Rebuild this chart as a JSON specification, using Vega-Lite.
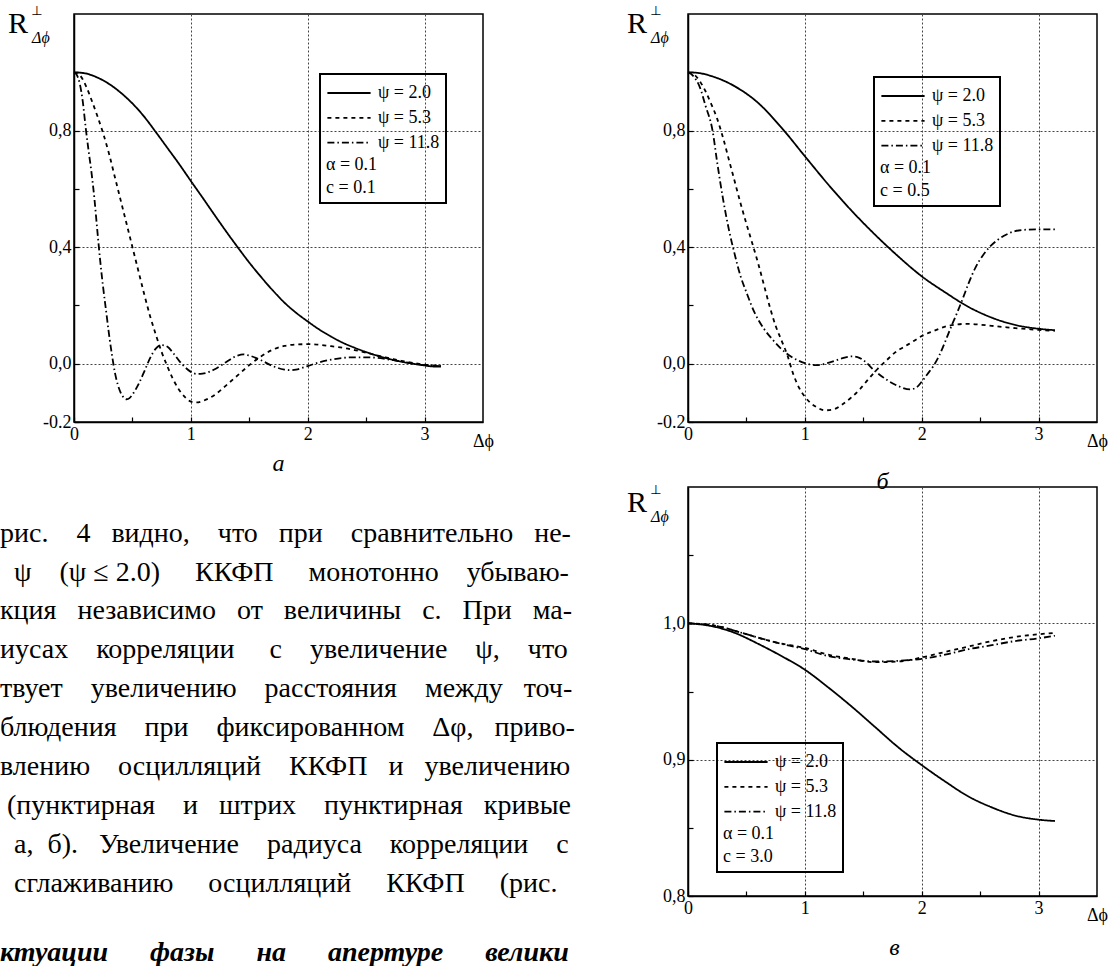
{
 "$schema": "https://vega.github.io/schema/vega-lite/v6.json",
 "autosize": {"type": "none"},
 "padding": {"left": 74, "top": 14, "right": 1039, "bottom": 952},
 "background": "white",
 "datasets": {
  "curves": [
   {"p":"a","s":"ψ = 2.0","x":0,"y":1},{"p":"a","s":"ψ = 2.0","x":0.1,"y":0.996},{"p":"a","s":"ψ = 2.0","x":0.2,"y":0.982},{"p":"a","s":"ψ = 2.0","x":0.3,"y":0.96},{"p":"a","s":"ψ = 2.0","x":0.4,"y":0.93},{"p":"a","s":"ψ = 2.0","x":0.5,"y":0.893},{"p":"a","s":"ψ = 2.0","x":0.6,"y":0.848},{"p":"a","s":"ψ = 2.0","x":0.7,"y":0.795},{"p":"a","s":"ψ = 2.0","x":0.8,"y":0.74},{"p":"a","s":"ψ = 2.0","x":0.9,"y":0.685},{"p":"a","s":"ψ = 2.0","x":1.0,"y":0.627},{"p":"a","s":"ψ = 2.0","x":1.1,"y":0.57},{"p":"a","s":"ψ = 2.0","x":1.2,"y":0.512},{"p":"a","s":"ψ = 2.0","x":1.3,"y":0.455},{"p":"a","s":"ψ = 2.0","x":1.4,"y":0.4},{"p":"a","s":"ψ = 2.0","x":1.5,"y":0.347},{"p":"a","s":"ψ = 2.0","x":1.6,"y":0.298},{"p":"a","s":"ψ = 2.0","x":1.7,"y":0.252},{"p":"a","s":"ψ = 2.0","x":1.8,"y":0.21},{"p":"a","s":"ψ = 2.0","x":1.9,"y":0.175},{"p":"a","s":"ψ = 2.0","x":2.0,"y":0.145},{"p":"a","s":"ψ = 2.0","x":2.1,"y":0.117},{"p":"a","s":"ψ = 2.0","x":2.2,"y":0.093},{"p":"a","s":"ψ = 2.0","x":2.3,"y":0.072},{"p":"a","s":"ψ = 2.0","x":2.4,"y":0.055},{"p":"a","s":"ψ = 2.0","x":2.5,"y":0.04},{"p":"a","s":"ψ = 2.0","x":2.6,"y":0.027},{"p":"a","s":"ψ = 2.0","x":2.7,"y":0.016},{"p":"a","s":"ψ = 2.0","x":2.8,"y":0.007},{"p":"a","s":"ψ = 2.0","x":2.9,"y":0.0},{"p":"a","s":"ψ = 2.0","x":3.0,"y":-0.006},{"p":"a","s":"ψ = 2.0","x":3.1,"y":-0.01},{"p":"a","s":"ψ = 2.0","x":3.14,"y":-0.01},

   {"p":"a","s":"ψ = 5.3","x":0,"y":1},{"p":"a","s":"ψ = 5.3","x":0.05,"y":0.99},{"p":"a","s":"ψ = 5.3","x":0.1,"y":0.955},{"p":"a","s":"ψ = 5.3","x":0.15,"y":0.905},{"p":"a","s":"ψ = 5.3","x":0.2,"y":0.85},{"p":"a","s":"ψ = 5.3","x":0.25,"y":0.79},{"p":"a","s":"ψ = 5.3","x":0.3,"y":0.72},{"p":"a","s":"ψ = 5.3","x":0.35,"y":0.64},{"p":"a","s":"ψ = 5.3","x":0.4,"y":0.56},{"p":"a","s":"ψ = 5.3","x":0.45,"y":0.48},{"p":"a","s":"ψ = 5.3","x":0.5,"y":0.4},{"p":"a","s":"ψ = 5.3","x":0.55,"y":0.32},{"p":"a","s":"ψ = 5.3","x":0.6,"y":0.24},{"p":"a","s":"ψ = 5.3","x":0.65,"y":0.165},{"p":"a","s":"ψ = 5.3","x":0.7,"y":0.1},{"p":"a","s":"ψ = 5.3","x":0.75,"y":0.04},{"p":"a","s":"ψ = 5.3","x":0.8,"y":-0.01},{"p":"a","s":"ψ = 5.3","x":0.85,"y":-0.055},{"p":"a","s":"ψ = 5.3","x":0.9,"y":-0.09},{"p":"a","s":"ψ = 5.3","x":0.95,"y":-0.115},{"p":"a","s":"ψ = 5.3","x":1.0,"y":-0.13},{"p":"a","s":"ψ = 5.3","x":1.05,"y":-0.133},{"p":"a","s":"ψ = 5.3","x":1.1,"y":-0.128},{"p":"a","s":"ψ = 5.3","x":1.2,"y":-0.108},{"p":"a","s":"ψ = 5.3","x":1.3,"y":-0.075},{"p":"a","s":"ψ = 5.3","x":1.4,"y":-0.04},{"p":"a","s":"ψ = 5.3","x":1.5,"y":-0.005},{"p":"a","s":"ψ = 5.3","x":1.6,"y":0.025},{"p":"a","s":"ψ = 5.3","x":1.7,"y":0.048},{"p":"a","s":"ψ = 5.3","x":1.8,"y":0.061},{"p":"a","s":"ψ = 5.3","x":1.9,"y":0.066},{"p":"a","s":"ψ = 5.3","x":2.0,"y":0.067},{"p":"a","s":"ψ = 5.3","x":2.1,"y":0.065},{"p":"a","s":"ψ = 5.3","x":2.2,"y":0.06},{"p":"a","s":"ψ = 5.3","x":2.3,"y":0.055},{"p":"a","s":"ψ = 5.3","x":2.4,"y":0.047},{"p":"a","s":"ψ = 5.3","x":2.5,"y":0.038},{"p":"a","s":"ψ = 5.3","x":2.6,"y":0.028},{"p":"a","s":"ψ = 5.3","x":2.7,"y":0.019},{"p":"a","s":"ψ = 5.3","x":2.8,"y":0.01},{"p":"a","s":"ψ = 5.3","x":2.9,"y":0.003},{"p":"a","s":"ψ = 5.3","x":3.0,"y":-0.003},{"p":"a","s":"ψ = 5.3","x":3.14,"y":-0.008},

   {"p":"a","s":"ψ = 11.8","x":0,"y":1},{"p":"a","s":"ψ = 11.8","x":0.025,"y":0.99},{"p":"a","s":"ψ = 11.8","x":0.05,"y":0.96},{"p":"a","s":"ψ = 11.8","x":0.075,"y":0.9},{"p":"a","s":"ψ = 11.8","x":0.1,"y":0.81},{"p":"a","s":"ψ = 11.8","x":0.125,"y":0.73},{"p":"a","s":"ψ = 11.8","x":0.15,"y":0.655},{"p":"a","s":"ψ = 11.8","x":0.175,"y":0.565},{"p":"a","s":"ψ = 11.8","x":0.2,"y":0.455},{"p":"a","s":"ψ = 11.8","x":0.225,"y":0.35},{"p":"a","s":"ψ = 11.8","x":0.25,"y":0.26},{"p":"a","s":"ψ = 11.8","x":0.275,"y":0.18},{"p":"a","s":"ψ = 11.8","x":0.3,"y":0.1},{"p":"a","s":"ψ = 11.8","x":0.325,"y":0.03},{"p":"a","s":"ψ = 11.8","x":0.35,"y":-0.03},{"p":"a","s":"ψ = 11.8","x":0.375,"y":-0.072},{"p":"a","s":"ψ = 11.8","x":0.4,"y":-0.1},{"p":"a","s":"ψ = 11.8","x":0.425,"y":-0.116},{"p":"a","s":"ψ = 11.8","x":0.45,"y":-0.122},{"p":"a","s":"ψ = 11.8","x":0.475,"y":-0.118},{"p":"a","s":"ψ = 11.8","x":0.5,"y":-0.106},{"p":"a","s":"ψ = 11.8","x":0.55,"y":-0.072},{"p":"a","s":"ψ = 11.8","x":0.6,"y":-0.028},{"p":"a","s":"ψ = 11.8","x":0.65,"y":0.018},{"p":"a","s":"ψ = 11.8","x":0.7,"y":0.052},{"p":"a","s":"ψ = 11.8","x":0.75,"y":0.064},{"p":"a","s":"ψ = 11.8","x":0.8,"y":0.058},{"p":"a","s":"ψ = 11.8","x":0.85,"y":0.036},{"p":"a","s":"ψ = 11.8","x":0.9,"y":0.01},{"p":"a","s":"ψ = 11.8","x":0.95,"y":-0.012},{"p":"a","s":"ψ = 11.8","x":1.0,"y":-0.028},{"p":"a","s":"ψ = 11.8","x":1.05,"y":-0.035},{"p":"a","s":"ψ = 11.8","x":1.1,"y":-0.034},{"p":"a","s":"ψ = 11.8","x":1.2,"y":-0.02},{"p":"a","s":"ψ = 11.8","x":1.3,"y":0.005},{"p":"a","s":"ψ = 11.8","x":1.4,"y":0.028},{"p":"a","s":"ψ = 11.8","x":1.45,"y":0.032},{"p":"a","s":"ψ = 11.8","x":1.5,"y":0.028},{"p":"a","s":"ψ = 11.8","x":1.6,"y":0.012},{"p":"a","s":"ψ = 11.8","x":1.7,"y":-0.008},{"p":"a","s":"ψ = 11.8","x":1.8,"y":-0.02},{"p":"a","s":"ψ = 11.8","x":1.85,"y":-0.022},{"p":"a","s":"ψ = 11.8","x":1.9,"y":-0.02},{"p":"a","s":"ψ = 11.8","x":2.0,"y":-0.008},{"p":"a","s":"ψ = 11.8","x":2.1,"y":0.005},{"p":"a","s":"ψ = 11.8","x":2.2,"y":0.014},{"p":"a","s":"ψ = 11.8","x":2.3,"y":0.02},{"p":"a","s":"ψ = 11.8","x":2.4,"y":0.022},{"p":"a","s":"ψ = 11.8","x":2.5,"y":0.022},{"p":"a","s":"ψ = 11.8","x":2.6,"y":0.02},{"p":"a","s":"ψ = 11.8","x":2.7,"y":0.014},{"p":"a","s":"ψ = 11.8","x":2.8,"y":0.008},{"p":"a","s":"ψ = 11.8","x":2.9,"y":0.0},{"p":"a","s":"ψ = 11.8","x":3.0,"y":-0.005},{"p":"a","s":"ψ = 11.8","x":3.14,"y":-0.008},

   {"p":"b","s":"ψ = 2.0","x":0,"y":1},{"p":"b","s":"ψ = 2.0","x":0.1,"y":0.997},{"p":"b","s":"ψ = 2.0","x":0.2,"y":0.987},{"p":"b","s":"ψ = 2.0","x":0.4,"y":0.952},{"p":"b","s":"ψ = 2.0","x":0.6,"y":0.895},{"p":"b","s":"ψ = 2.0","x":0.8,"y":0.81},{"p":"b","s":"ψ = 2.0","x":1.0,"y":0.712},{"p":"b","s":"ψ = 2.0","x":1.2,"y":0.615},{"p":"b","s":"ψ = 2.0","x":1.4,"y":0.525},{"p":"b","s":"ψ = 2.0","x":1.6,"y":0.443},{"p":"b","s":"ψ = 2.0","x":1.8,"y":0.368},{"p":"b","s":"ψ = 2.0","x":2.0,"y":0.3},{"p":"b","s":"ψ = 2.0","x":2.2,"y":0.245},{"p":"b","s":"ψ = 2.0","x":2.4,"y":0.195},{"p":"b","s":"ψ = 2.0","x":2.6,"y":0.158},{"p":"b","s":"ψ = 2.0","x":2.8,"y":0.133},{"p":"b","s":"ψ = 2.0","x":3.0,"y":0.12},{"p":"b","s":"ψ = 2.0","x":3.14,"y":0.115},

   {"p":"b","s":"ψ = 5.3","x":0,"y":1},{"p":"b","s":"ψ = 5.3","x":0.05,"y":0.993},{"p":"b","s":"ψ = 5.3","x":0.1,"y":0.97},{"p":"b","s":"ψ = 5.3","x":0.15,"y":0.935},{"p":"b","s":"ψ = 5.3","x":0.2,"y":0.89},{"p":"b","s":"ψ = 5.3","x":0.25,"y":0.84},{"p":"b","s":"ψ = 5.3","x":0.3,"y":0.775},{"p":"b","s":"ψ = 5.3","x":0.35,"y":0.7},{"p":"b","s":"ψ = 5.3","x":0.4,"y":0.625},{"p":"b","s":"ψ = 5.3","x":0.45,"y":0.55},{"p":"b","s":"ψ = 5.3","x":0.5,"y":0.48},{"p":"b","s":"ψ = 5.3","x":0.56,"y":0.4},{"p":"b","s":"ψ = 5.3","x":0.6,"y":0.345},{"p":"b","s":"ψ = 5.3","x":0.65,"y":0.27},{"p":"b","s":"ψ = 5.3","x":0.7,"y":0.195},{"p":"b","s":"ψ = 5.3","x":0.75,"y":0.13},{"p":"b","s":"ψ = 5.3","x":0.8,"y":0.08},{"p":"b","s":"ψ = 5.3","x":0.85,"y":0.03},{"p":"b","s":"ψ = 5.3","x":0.9,"y":-0.035},{"p":"b","s":"ψ = 5.3","x":0.95,"y":-0.082},{"p":"b","s":"ψ = 5.3","x":1.0,"y":-0.113},{"p":"b","s":"ψ = 5.3","x":1.05,"y":-0.135},{"p":"b","s":"ψ = 5.3","x":1.1,"y":-0.149},{"p":"b","s":"ψ = 5.3","x":1.17,"y":-0.16},{"p":"b","s":"ψ = 5.3","x":1.25,"y":-0.156},{"p":"b","s":"ψ = 5.3","x":1.32,"y":-0.14},{"p":"b","s":"ψ = 5.3","x":1.4,"y":-0.115},{"p":"b","s":"ψ = 5.3","x":1.47,"y":-0.088},{"p":"b","s":"ψ = 5.3","x":1.55,"y":-0.05},{"p":"b","s":"ψ = 5.3","x":1.62,"y":-0.019},{"p":"b","s":"ψ = 5.3","x":1.7,"y":0.012},{"p":"b","s":"ψ = 5.3","x":1.77,"y":0.038},{"p":"b","s":"ψ = 5.3","x":1.85,"y":0.058},{"p":"b","s":"ψ = 5.3","x":1.92,"y":0.075},{"p":"b","s":"ψ = 5.3","x":2.0,"y":0.095},{"p":"b","s":"ψ = 5.3","x":2.1,"y":0.112},{"p":"b","s":"ψ = 5.3","x":2.2,"y":0.127},{"p":"b","s":"ψ = 5.3","x":2.3,"y":0.135},{"p":"b","s":"ψ = 5.3","x":2.4,"y":0.137},{"p":"b","s":"ψ = 5.3","x":2.5,"y":0.134},{"p":"b","s":"ψ = 5.3","x":2.6,"y":0.13},{"p":"b","s":"ψ = 5.3","x":2.7,"y":0.126},{"p":"b","s":"ψ = 5.3","x":2.8,"y":0.122},{"p":"b","s":"ψ = 5.3","x":2.9,"y":0.119},{"p":"b","s":"ψ = 5.3","x":3.0,"y":0.116},{"p":"b","s":"ψ = 5.3","x":3.14,"y":0.113},

   {"p":"b","s":"ψ = 11.8","x":0,"y":1},{"p":"b","s":"ψ = 11.8","x":0.05,"y":0.985},{"p":"b","s":"ψ = 11.8","x":0.1,"y":0.95},{"p":"b","s":"ψ = 11.8","x":0.15,"y":0.885},{"p":"b","s":"ψ = 11.8","x":0.21,"y":0.8},{"p":"b","s":"ψ = 11.8","x":0.25,"y":0.69},{"p":"b","s":"ψ = 11.8","x":0.3,"y":0.565},{"p":"b","s":"ψ = 11.8","x":0.35,"y":0.46},{"p":"b","s":"ψ = 11.8","x":0.4,"y":0.375},{"p":"b","s":"ψ = 11.8","x":0.45,"y":0.3},{"p":"b","s":"ψ = 11.8","x":0.5,"y":0.245},{"p":"b","s":"ψ = 11.8","x":0.57,"y":0.175},{"p":"b","s":"ψ = 11.8","x":0.65,"y":0.12},{"p":"b","s":"ψ = 11.8","x":0.73,"y":0.08},{"p":"b","s":"ψ = 11.8","x":0.8,"y":0.05},{"p":"b","s":"ψ = 11.8","x":0.9,"y":0.02},{"p":"b","s":"ψ = 11.8","x":1.0,"y":0.002},{"p":"b","s":"ψ = 11.8","x":1.1,"y":-0.005},{"p":"b","s":"ψ = 11.8","x":1.2,"y":0.003},{"p":"b","s":"ψ = 11.8","x":1.3,"y":0.016},{"p":"b","s":"ψ = 11.8","x":1.4,"y":0.025},{"p":"b","s":"ψ = 11.8","x":1.45,"y":0.023},{"p":"b","s":"ψ = 11.8","x":1.5,"y":0.012},{"p":"b","s":"ψ = 11.8","x":1.6,"y":-0.025},{"p":"b","s":"ψ = 11.8","x":1.7,"y":-0.055},{"p":"b","s":"ψ = 11.8","x":1.8,"y":-0.077},{"p":"b","s":"ψ = 11.8","x":1.9,"y":-0.088},{"p":"b","s":"ψ = 11.8","x":1.95,"y":-0.083},{"p":"b","s":"ψ = 11.8","x":2.0,"y":-0.062},{"p":"b","s":"ψ = 11.8","x":2.05,"y":-0.035},{"p":"b","s":"ψ = 11.8","x":2.1,"y":-0.008},{"p":"b","s":"ψ = 11.8","x":2.15,"y":0.028},{"p":"b","s":"ψ = 11.8","x":2.2,"y":0.075},{"p":"b","s":"ψ = 11.8","x":2.25,"y":0.125},{"p":"b","s":"ψ = 11.8","x":2.3,"y":0.172},{"p":"b","s":"ψ = 11.8","x":2.35,"y":0.222},{"p":"b","s":"ψ = 11.8","x":2.4,"y":0.275},{"p":"b","s":"ψ = 11.8","x":2.46,"y":0.33},{"p":"b","s":"ψ = 11.8","x":2.52,"y":0.37},{"p":"b","s":"ψ = 11.8","x":2.58,"y":0.4},{"p":"b","s":"ψ = 11.8","x":2.65,"y":0.425},{"p":"b","s":"ψ = 11.8","x":2.7,"y":0.438},{"p":"b","s":"ψ = 11.8","x":2.8,"y":0.455},{"p":"b","s":"ψ = 11.8","x":2.9,"y":0.46},{"p":"b","s":"ψ = 11.8","x":3.0,"y":0.461},{"p":"b","s":"ψ = 11.8","x":3.14,"y":0.461},

   {"p":"c","s":"ψ = 2.0","x":0,"y":1},{"p":"c","s":"ψ = 2.0","x":0.2,"y":0.998},{"p":"c","s":"ψ = 2.0","x":0.4,"y":0.993},{"p":"c","s":"ψ = 2.0","x":0.6,"y":0.985},{"p":"c","s":"ψ = 2.0","x":0.8,"y":0.976},{"p":"c","s":"ψ = 2.0","x":1.0,"y":0.966},{"p":"c","s":"ψ = 2.0","x":1.2,"y":0.953},{"p":"c","s":"ψ = 2.0","x":1.4,"y":0.939},{"p":"c","s":"ψ = 2.0","x":1.6,"y":0.924},{"p":"c","s":"ψ = 2.0","x":1.8,"y":0.909},{"p":"c","s":"ψ = 2.0","x":2.0,"y":0.896},{"p":"c","s":"ψ = 2.0","x":2.2,"y":0.884},{"p":"c","s":"ψ = 2.0","x":2.4,"y":0.873},{"p":"c","s":"ψ = 2.0","x":2.6,"y":0.865},{"p":"c","s":"ψ = 2.0","x":2.8,"y":0.859},{"p":"c","s":"ψ = 2.0","x":3.0,"y":0.856},{"p":"c","s":"ψ = 2.0","x":3.14,"y":0.855},

   {"p":"c","s":"ψ = 5.3","x":0,"y":1},{"p":"c","s":"ψ = 5.3","x":0.25,"y":0.998},{"p":"c","s":"ψ = 5.3","x":0.5,"y":0.992},{"p":"c","s":"ψ = 5.3","x":0.75,"y":0.986},{"p":"c","s":"ψ = 5.3","x":1.0,"y":0.982},{"p":"c","s":"ψ = 5.3","x":1.2,"y":0.977},{"p":"c","s":"ψ = 5.3","x":1.4,"y":0.974},{"p":"c","s":"ψ = 5.3","x":1.6,"y":0.9715},{"p":"c","s":"ψ = 5.3","x":1.8,"y":0.972},{"p":"c","s":"ψ = 5.3","x":2.0,"y":0.975},{"p":"c","s":"ψ = 5.3","x":2.2,"y":0.979},{"p":"c","s":"ψ = 5.3","x":2.4,"y":0.983},{"p":"c","s":"ψ = 5.3","x":2.6,"y":0.987},{"p":"c","s":"ψ = 5.3","x":2.8,"y":0.99},{"p":"c","s":"ψ = 5.3","x":3.0,"y":0.992},{"p":"c","s":"ψ = 5.3","x":3.14,"y":0.993},

   {"p":"c","s":"ψ = 11.8","x":0,"y":1},{"p":"c","s":"ψ = 11.8","x":0.25,"y":0.998},{"p":"c","s":"ψ = 11.8","x":0.5,"y":0.992},{"p":"c","s":"ψ = 11.8","x":0.75,"y":0.986},{"p":"c","s":"ψ = 11.8","x":1.0,"y":0.981},{"p":"c","s":"ψ = 11.8","x":1.2,"y":0.976},{"p":"c","s":"ψ = 11.8","x":1.4,"y":0.9735},{"p":"c","s":"ψ = 11.8","x":1.6,"y":0.972},{"p":"c","s":"ψ = 11.8","x":1.8,"y":0.9725},{"p":"c","s":"ψ = 11.8","x":2.0,"y":0.974},{"p":"c","s":"ψ = 11.8","x":2.2,"y":0.977},{"p":"c","s":"ψ = 11.8","x":2.4,"y":0.981},{"p":"c","s":"ψ = 11.8","x":2.6,"y":0.984},{"p":"c","s":"ψ = 11.8","x":2.8,"y":0.987},{"p":"c","s":"ψ = 11.8","x":3.0,"y":0.989},{"p":"c","s":"ψ = 11.8","x":3.14,"y":0.991}
  ],
  "lines": [
   {"n":1,"t":"рис. \u00a0\u00a0\u00a04 \u00a0\u00a0видно, \u00a0\u00a0\u00a0что \u00a0\u00a0при \u00a0\u00a0\u00a0сравнительно \u00a0\u00a0не-"},
   {"n":2,"t":"\u200b\u00a0\u00a0ψ \u00a0\u00a0\u00a0(ψ ≤ 2.0) \u00a0\u00a0\u00a0\u00a0ККФП \u00a0\u00a0\u00a0\u00a0монотонно \u00a0\u00a0\u00a0убываю-"},
   {"n":3,"t":"кция \u00a0\u00a0независимо \u00a0\u00a0от \u00a0\u00a0величины \u00a0\u00a0c. \u00a0\u00a0При \u00a0\u00a0ма-"},
   {"n":4,"t":"иусах \u00a0\u00a0\u00a0корреляции \u00a0\u00a0\u00a0\u00a0c \u00a0\u00a0\u00a0увеличение \u00a0\u00a0\u00a0ψ, \u00a0\u00a0\u00a0что"},
   {"n":5,"t":"твует \u00a0\u00a0\u00a0увеличению \u00a0\u00a0\u00a0расстояния \u00a0\u00a0\u00a0между \u00a0\u00a0точ-"},
   {"n":6,"t":"блюдения \u00a0\u00a0\u00a0при \u00a0\u00a0\u00a0фиксированном \u00a0\u00a0\u00a0Δφ, \u00a0\u00a0приво-"},
   {"n":7,"t":"влению \u00a0\u00a0\u00a0осцилляций \u00a0\u00a0\u00a0ККФП \u00a0\u00a0и \u00a0\u00a0увеличению"},
   {"n":8,"t":"\u200b\u00a0(пунктирная \u00a0\u00a0\u00a0и \u00a0\u00a0штрих \u00a0\u00a0\u00a0пунктирная \u00a0\u00a0кривые"},
   {"n":9,"t":"\u200b\u00a0\u00a0а, \u00a0б). \u00a0\u00a0Увеличение \u00a0\u00a0\u00a0радиуса \u00a0\u00a0\u00a0корреляции \u00a0\u00a0\u00a0c"},
   {"n":10,"t":"\u200b\u00a0\u00a0сглаживанию \u00a0\u00a0\u00a0\u00a0осцилляций \u00a0\u00a0\u00a0\u00a0ККФП \u00a0\u00a0\u00a0\u00a0(рис."},
   {"n":12,"t":"ктуации \u00a0\u00a0\u00a0\u00a0\u00a0фазы \u00a0\u00a0\u00a0\u00a0\u00a0на \u00a0\u00a0\u00a0\u00a0\u00a0апертуре \u00a0\u00a0\u00a0\u00a0\u00a0велики"}
  ]
 },
 "columns": 2,
 "spacing": {"row": 65, "column": 205},
 "bounds": "flush",
 "resolve": {"scale": {"x": "independent", "y": "independent", "strokeDash": "independent"}, "legend": {"strokeDash": "independent"}},
 "concat": [
  {
   "width": 409, "height": 408,
   "title": {"text": "а", "orient": "bottom", "frame": "group", "anchor": "middle", "offset": 2, "font": "Liberation Serif", "fontStyle": "italic", "fontWeight": "normal", "fontSize": 24, "color": "black"},
   "layer": [
    {"data": {"name": "curves"}, "transform": [{"filter": "datum.p == 'a'"}],
     "mark": {"type": "line", "interpolate": "monotone", "stroke": "black", "strokeWidth": 1.8},
     "encoding": {
      "x": {"field": "x", "type": "quantitative", "scale": {"domain": [0, 3.5], "nice": false, "zero": false},
            "axis": {"values": [0,0.5,1,1.5,2,2.5,3], "labelExpr": "datum.value % 1 == 0 ? '' + datum.value : ''", "labelPadding": 8, "labelFlush": false, "labelOverlap": false, "grid": true, "gridOpacity": {"condition": {"test": "datum.value % 1 == 0 && datum.value > 0", "value": 1}, "value": 0}, "title": "Δϕ", "titleX": 409, "titleY": 24, "titleAlign": "center", "titleBaseline": "alphabetic", "titleFontSize": 18, "titleAngle": 0}},
      "y": {"field": "y", "type": "quantitative", "scale": {"domain": [-0.2, 1.2], "nice": false, "zero": false},
            "axis": {"values": [-0.2,0,0.2,0.4,0.6,0.8,1], "labelExpr": "datum.value < -0.1 ? '-0.2' : abs(datum.value) < 0.01 ? '0,0' : abs(datum.value - 0.4) < 0.01 ? '0,4' : abs(datum.value - 0.8) < 0.01 ? '0,8' : ''", "labelPadding": 8, "labelOverlap": false, "labelFlush": false, "grid": true, "gridOpacity": {"condition": {"test": "abs(datum.value) < 0.01 || abs(datum.value - 0.4) < 0.01 || abs(datum.value - 0.8) < 0.01", "value": 1}, "value": 0}, "title": null}},
      "strokeDash": {"field": "s", "type": "nominal", "scale": {"domain": ["ψ = 2.0", "ψ = 5.3", "ψ = 11.8"], "range": [[1,0],[4,4],[7,3,1.5,3]]},
            "legend": {"orient": "none", "legendX": 246, "legendY": 60, "title": ["α = 0.1", "c = 0.1"], "encode": {"legend": {"update": {"strokeWidth": {"value": 2}}}}}}
     }},
    {"data": {"values": [{}]}, "mark": {"type": "text", "text": "R", "align": "left", "baseline": "alphabetic", "fontSize": 30, "dx": -66, "dy": 19}, "encoding": {"x": {"datum": 0}, "y": {"datum": 1.2}}},
    {"data": {"values": [{}]}, "mark": {"type": "text", "text": "⊥", "font": "DejaVu Sans", "align": "center", "baseline": "alphabetic", "fontSize": 13, "dx": -37, "dy": 1}, "encoding": {"x": {"datum": 0}, "y": {"datum": 1.2}}},
    {"data": {"values": [{}]}, "mark": {"type": "text", "text": "Δϕ", "fontStyle": "italic", "align": "left", "baseline": "alphabetic", "fontSize": 16, "dx": -42, "dy": 29}, "encoding": {"x": {"datum": 0}, "y": {"datum": 1.2}}}
   ]
  },
  {
   "width": 409, "height": 408,
   "title": {"text": "б", "orient": "bottom", "frame": "group", "anchor": "middle", "offset": 20, "dx": -10, "font": "Liberation Serif", "fontStyle": "italic", "fontWeight": "normal", "fontSize": 24, "color": "black"},
   "layer": [
    {"data": {"name": "curves"}, "transform": [{"filter": "datum.p == 'b'"}],
     "mark": {"type": "line", "interpolate": "monotone", "stroke": "black", "strokeWidth": 1.8},
     "encoding": {
      "x": {"field": "x", "type": "quantitative", "scale": {"domain": [0, 3.5], "nice": false, "zero": false},
            "axis": {"values": [0,0.5,1,1.5,2,2.5,3], "labelExpr": "datum.value % 1 == 0 ? '' + datum.value : ''", "labelPadding": 8, "labelFlush": false, "labelOverlap": false, "grid": true, "gridOpacity": {"condition": {"test": "datum.value % 1 == 0 && datum.value > 0", "value": 1}, "value": 0}, "title": "Δϕ", "titleX": 409, "titleY": 24, "titleAlign": "center", "titleBaseline": "alphabetic", "titleFontSize": 18, "titleAngle": 0}},
      "y": {"field": "y", "type": "quantitative", "scale": {"domain": [-0.2, 1.2], "nice": false, "zero": false},
            "axis": {"values": [-0.2,0,0.2,0.4,0.6,0.8,1], "labelExpr": "datum.value < -0.1 ? '-0.2' : abs(datum.value) < 0.01 ? '0,0' : abs(datum.value - 0.4) < 0.01 ? '0,4' : abs(datum.value - 0.8) < 0.01 ? '0,8' : ''", "labelPadding": 8, "labelOverlap": false, "labelFlush": false, "grid": true, "gridOpacity": {"condition": {"test": "abs(datum.value) < 0.01 || abs(datum.value - 0.4) < 0.01 || abs(datum.value - 0.8) < 0.01", "value": 1}, "value": 0}, "title": null}},
      "strokeDash": {"field": "s", "type": "nominal", "scale": {"domain": ["ψ = 2.0", "ψ = 5.3", "ψ = 11.8"], "range": [[1,0],[4,4],[7,3,1.5,3]]},
            "legend": {"orient": "none", "legendX": 186, "legendY": 63, "title": ["α = 0.1", "c = 0.5"], "encode": {"legend": {"update": {"strokeWidth": {"value": 2}}}}}}
     }},
    {"data": {"values": [{}]}, "mark": {"type": "text", "text": "R", "align": "left", "baseline": "alphabetic", "fontSize": 30, "dx": -61, "dy": 19}, "encoding": {"x": {"datum": 0}, "y": {"datum": 1.2}}},
    {"data": {"values": [{}]}, "mark": {"type": "text", "text": "⊥", "font": "DejaVu Sans", "align": "center", "baseline": "alphabetic", "fontSize": 13, "dx": -32, "dy": 1}, "encoding": {"x": {"datum": 0}, "y": {"datum": 1.2}}},
    {"data": {"values": [{}]}, "mark": {"type": "text", "text": "Δϕ", "fontStyle": "italic", "align": "left", "baseline": "alphabetic", "fontSize": 16, "dx": -37, "dy": 29}, "encoding": {"x": {"datum": 0}, "y": {"datum": 1.2}}}
   ]
  },
  {
   "width": 409, "height": 409,
   "view": {"stroke": null},
   "data": {"name": "lines"},
   "layer": [
    {"transform": [{"filter": "datum.n <= 10"}],
     "mark": {"type": "text", "align": "left", "baseline": "alphabetic", "font": "Liberation Serif", "fontSize": 28, "color": "black"},
     "encoding": {
      "x": {"datum": 0, "type": "quantitative", "scale": {"domain": [0.181, 1.181], "nice": false, "zero": false}, "axis": null},
      "y": {"field": "n", "type": "quantitative", "scale": {"domain": [-0.406, 10.108], "reverse": true, "nice": false, "zero": false}, "axis": null},
      "text": {"field": "t"}
     }},
    {"transform": [{"filter": "datum.n == 12"}],
     "mark": {"type": "text", "align": "left", "baseline": "alphabetic", "font": "Liberation Serif", "fontSize": 28, "fontWeight": "bold", "fontStyle": "italic", "color": "black", "dy": -9},
     "encoding": {
      "x": {"datum": 0, "type": "quantitative", "axis": null},
      "y": {"field": "n", "type": "quantitative", "axis": null},
      "text": {"field": "t"}
     }}
   ]
  },
  {
   "width": 409, "height": 409,
   "title": {"text": "в", "orient": "bottom", "frame": "group", "anchor": "middle", "offset": 12, "dx": 2, "font": "Liberation Serif", "fontStyle": "italic", "fontWeight": "normal", "fontSize": 24, "color": "black"},
   "layer": [
    {"data": {"name": "curves"}, "transform": [{"filter": "datum.p == 'c'"}],
     "mark": {"type": "line", "interpolate": "monotone", "stroke": "black", "strokeWidth": 1.8},
     "encoding": {
      "x": {"field": "x", "type": "quantitative", "scale": {"domain": [0, 3.5], "nice": false, "zero": false},
            "axis": {"values": [0,0.5,1,1.5,2,2.5,3], "labelExpr": "datum.value % 1 == 0 ? '' + datum.value : ''", "labelPadding": 8, "labelFlush": false, "labelOverlap": false, "grid": true, "gridOpacity": {"condition": {"test": "datum.value % 1 == 0 && datum.value > 0", "value": 1}, "value": 0}, "title": "Δϕ", "titleX": 409, "titleY": 24, "titleAlign": "center", "titleBaseline": "alphabetic", "titleFontSize": 18, "titleAngle": 0}},
      "y": {"field": "y", "type": "quantitative", "scale": {"domain": [0.8, 1.1], "nice": false, "zero": false},
            "axis": {"values": [0.8,0.85,0.9,0.95,1,1.05], "labelExpr": "abs(datum.value - 0.8) < 0.01 ? '0,8' : abs(datum.value - 0.9) < 0.01 ? '0,9' : abs(datum.value - 1) < 0.01 ? '1,0' : ''", "labelPadding": 8, "labelOverlap": false, "labelFlush": false, "grid": true, "gridOpacity": {"condition": {"test": "abs(datum.value - 0.9) < 0.01 || abs(datum.value - 1) < 0.01", "value": 1}, "value": 0}, "title": null}},
      "strokeDash": {"field": "s", "type": "nominal", "scale": {"domain": ["ψ = 2.0", "ψ = 5.3", "ψ = 11.8"], "range": [[1,0],[4,4],[7,3,1.5,3]]},
            "legend": {"orient": "none", "legendX": 29, "legendY": 256, "title": ["α = 0.1", "c = 3.0"], "encode": {"legend": {"update": {"strokeWidth": {"value": 2}}}}}}
     }},
    {"data": {"values": [{}]}, "mark": {"type": "text", "text": "R", "align": "left", "baseline": "alphabetic", "fontSize": 30, "dx": -61, "dy": 25}, "encoding": {"x": {"datum": 0}, "y": {"datum": 1.1}}},
    {"data": {"values": [{}]}, "mark": {"type": "text", "text": "⊥", "font": "DejaVu Sans", "align": "center", "baseline": "alphabetic", "fontSize": 13, "dx": -32, "dy": 7}, "encoding": {"x": {"datum": 0}, "y": {"datum": 1.1}}},
    {"data": {"values": [{}]}, "mark": {"type": "text", "text": "Δϕ", "fontStyle": "italic", "align": "left", "baseline": "alphabetic", "fontSize": 16, "dx": -37, "dy": 35}, "encoding": {"x": {"datum": 0}, "y": {"datum": 1.1}}}
   ]
  }
 ],
 "config": {
  "view": {"stroke": "black", "strokeWidth": 1.5},
  "axis": {"domainColor": "black", "domainWidth": 1.5, "tickColor": "black", "tickWidth": 1.2, "tickSize": -5, "labelFont": "Liberation Serif", "labelFontSize": 18, "labelColor": "black", "gridColor": "#444", "gridDash": [2, 2], "gridWidth": 1, "titleFont": "Liberation Serif", "titleFontWeight": "normal", "titleColor": "black"},
  "legend": {"labelFont": "Liberation Serif", "labelFontSize": 18, "labelColor": "black", "labelOffset": 16, "symbolType": "M-1.8,0H1.8", "symbolSize": 576, "symbolStrokeWidth": 1.8, "symbolStrokeColor": "black", "symbolOffset": 10, "padding": 6, "strokeColor": "black", "rowPadding": 2.8, "titleFont": "Liberation Serif", "titleFontSize": 18, "titleFontWeight": "normal", "titleColor": "black", "titleOrient": "bottom", "titleAnchor": "start", "titleAlign": "left", "titleLineHeight": 23, "titlePadding": 4, "titleLimit": 0},
  "text": {"font": "Liberation Serif", "color": "black"}
 }
}
